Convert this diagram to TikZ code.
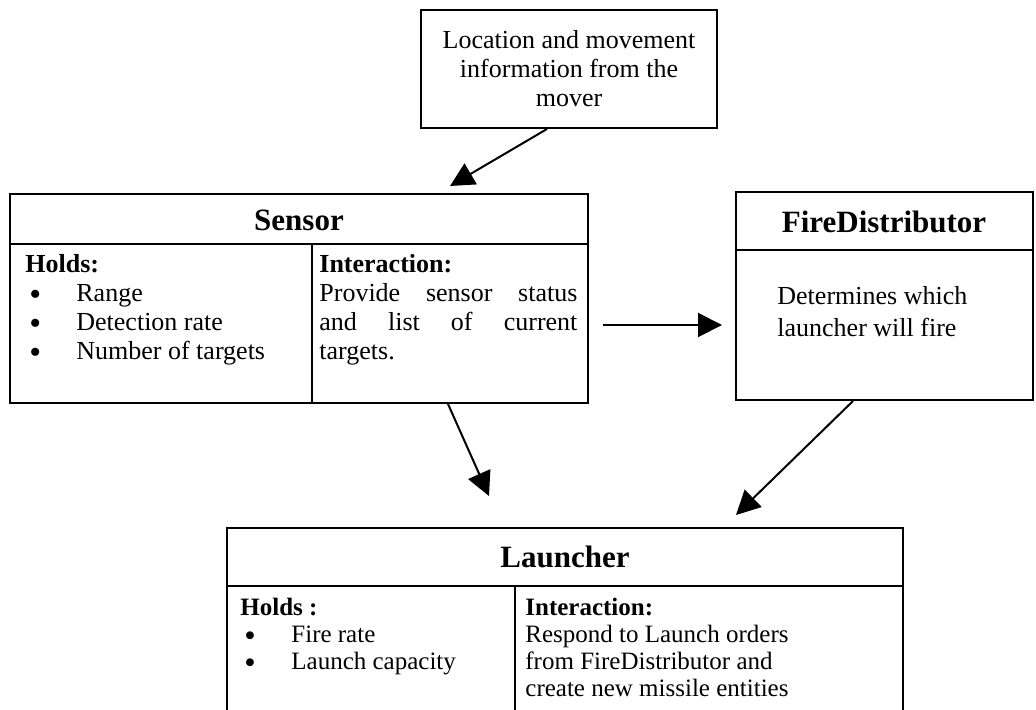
\documentclass[tikz,border=0pt]{standalone}
\usepackage{fontspec}
\setmainfont{Liberation Serif}
\usetikzlibrary{arrows.meta,calc,positioning}

\tikzset{
  box/.style={draw, line width=1pt, inner sep=0pt},
  title/.style={font=\fontsize{15.5}{17}\selectfont\bfseries, inner sep=0pt},
  body/.style={font=\fontsize{13}{14.5}\selectfont, inner sep=0pt, align=left, anchor=north west},
  arr/.style={-{Triangle[length=12pt,width=12pt]}, line width=1pt},
}
\newcommand{\bul}[1]{\hspace*{2pt}\makebox[23.5pt][l]{\smash{\raisebox{-0.3ex}{\scalebox{1.3}{\textbullet}}}}#1}

\begin{document}
\begin{tikzpicture}[x=0.5pt,y=-0.5pt]
	\useasboundingbox (0,0) rectangle (1036,710);
	% boxes
	\node[box, minimum width=148pt, minimum height=59pt, align=center, font=\fontsize{13}{14.5}\selectfont] (mover) at (569,69) {Location and movement\\ information from the\\ mover};
	\node[box, minimum width=289pt, minimum height=104.5pt] (sensor) at (299,298.5) {};
	\node[box, minimum width=148.5pt, minimum height=104pt] (fd) at (884.5,296) {};
	\node[box, minimum width=338pt, minimum height=94pt] (launcher) at (565,622) {};
	% sensor
	\draw[line width=1pt] (sensor.west |- 0,244) -- (sensor.east |- 0,244);
	\draw[line width=1pt] (312,244) -- (sensor.south -| 312,0);
	\node[title] (sensortitle) at (299,220) {Sensor};
	\node[body] (sholds) at (25,254) {\textbf{Holds:}\\ \bul{Range}\\ \bul{Detection rate}\\ \bul{Number of targets}};
	\node[body, text width=129pt] (sinter) at (319,254) {\textbf{Interaction:}\\ Provide\hfill sensor\hfill status\\ and\hfill list\hfill of\hfill current\\ targets.};
	% fire distributor
	\draw[line width=1pt] (fd.west |- 0,250) -- (fd.east |- 0,250);
	\node[title] (fdtitle) at (884,222) {FireDistributor};
	\node[body] (fdtext) at (777,286) {Determines which\\[1.5pt] launcher will fire};
	% launcher
	\draw[line width=1pt] (launcher.west |- 0,586) -- (launcher.east |- 0,586);
	\draw[line width=1pt] (515,586) -- (launcher.south -| 515,0);
	\node[title] (ltitle) at (565,557) {Launcher};
	\node[body, font=\fontsize{12.5}{13.5}\selectfont] (lholds) at (240,598) {\textbf{Holds :}\\ \bul{Fire rate}\\ \bul{Launch capacity}};
	\node[body, font=\fontsize{12.5}{13.5}\selectfont] (linter) at (525,598) {\textbf{Interaction:}\\ Respond to Launch orders\\ from FireDistributor and\\ create new missile entities};
	% arrows
	\coordinate (moverout) at (mover.south -| 547,0);
	\coordinate (sensorin) at (450,186);
	\coordinate (sensorout) at (603,325);
	\coordinate (fdin) at (722,325);
	\coordinate (sensordown) at (sensor.south -| 448,0);
	\coordinate (launchin) at (489,496);
	\coordinate (fddown) at (fd.south -| 853,0);
	\coordinate (launchin2) at (736,515);
	\draw[arr] (moverout) -- (sensorin);
	\draw[arr] (sensorout) -- (fdin);
	\draw[arr] (sensordown) -- (launchin);
	\draw[arr] (fddown) -- (launchin2);
\end{tikzpicture}
\end{document}
